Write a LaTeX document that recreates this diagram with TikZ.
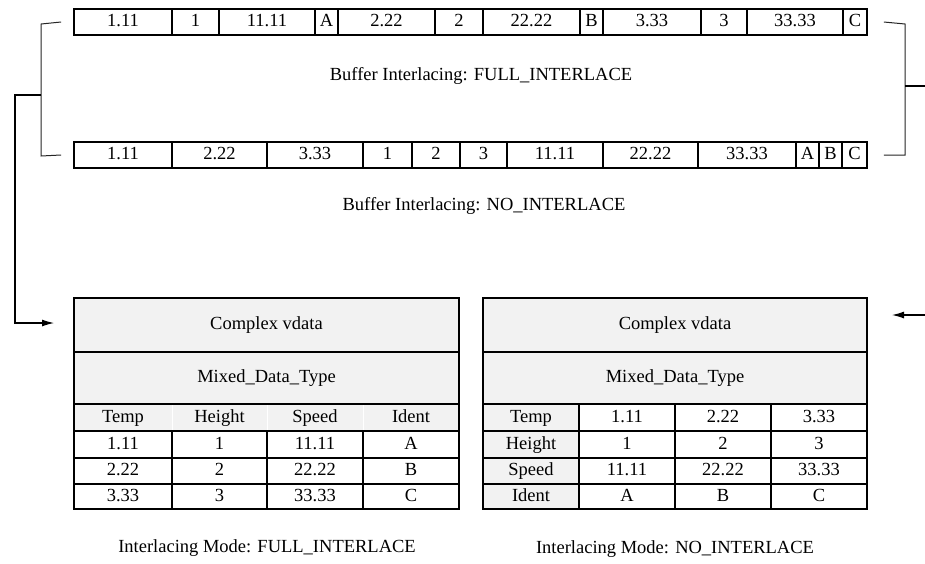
\documentclass[tikz,border=0pt]{standalone}
\usepackage{fontspec}
\setmainfont{Liberation Serif}
\usetikzlibrary{arrows.meta}
\definecolor{cellgrey}{HTML}{F2F2F2}
\tikzset{
  txt/.style={font=\fontsize{18.5}{18.5}\selectfont, inner sep=0pt},
  celltxt/.style={txt, text height=12.5pt, text depth=3.5pt},
  bufcell/.style={draw=black, line width=1.7pt, inner sep=0pt, celltxt},
  tabcell/.style={draw=black, line width=1.9pt, inner sep=0pt, celltxt},
  greycell/.style={tabcell, fill=cellgrey},
  hdrcell/.style={draw=white, line width=0.8pt, fill=cellgrey, inner sep=0pt, celltxt},
  bracket/.style={draw=black!85, line width=1pt},
  conn/.style={draw=black, line width=1.1pt, -{Latex[length=12pt,width=7pt]}},
  label/.style={txt}
}
\newcommand{\cellat}[7]{% name, style, x1, y1, x2, y2, text
  \pgfmathsetmacro{\cw}{#5-#3}\pgfmathsetmacro{\chh}{#6-#4}%
  \node[#2, minimum width=\cw pt, minimum height=\chh pt] (#1) at ({(#3+#5)/2},{(#4+#6)/2}) {#7};}
\begin{document}
\begin{tikzpicture}[x=1pt,y=-1pt]
\clip (0,0) rectangle (925,563);
\fill[white] (0,0) rectangle (925,563);
% top buffer (FULL_INTERLACE)
\foreach \a/\b/\t [count=\i] in {74/172/1.11,172/219/1,219/315/11.11,315/338/A,338/435/2.22,435/483/2,483/580/22.22,580/603/B,603/701/3.33,701/747/3,747/843/33.33,843/867/C}
  {\cellat{ta\i}{bufcell}{\a}{9}{\b}{35}{\t}}
% bottom buffer (NO_INTERLACE)
\foreach \a/\b/\t [count=\i] in {74/172/1.11,172/267/2.22,267/363/3.33,363/412/1,412/460/2,460/507/3,507/603/11.11,603/698/22.22,698/796/33.33,796/819/A,819/842/B,842/867/C}
  {\cellat{tb\i}{bufcell}{\a}{142}{\b}{168}{\t}}
\node[label] (lfull) at (481,76) {Buffer Interlacing: FULL\_INTERLACE};
\node[label] (lno) at (484,206) {Buffer Interlacing: NO\_INTERLACE};
% left table
\cellat{lt1}{greycell}{74}{298}{459}{352}{Complex vdata}
\cellat{lt2}{greycell}{74}{352}{459}{404}{Mixed\_Data\_Type}
\foreach \a/\b/\t [count=\i] in {74/172/Temp,172/267/Height,267/363/Speed,363/459/Ident}
  {\cellat{lh\i}{hdrcell}{\a}{404}{\b}{431}{\t}}
\foreach \a/\b/\t [count=\i] in {74/172/1.11,172/267/1,267/363/11.11,363/459/A}
  {\cellat{la\i}{tabcell}{\a}{431}{\b}{458}{\t}}
\foreach \a/\b/\t [count=\i] in {74/172/2.22,172/267/2,267/363/22.22,363/459/B}
  {\cellat{lb\i}{tabcell}{\a}{458}{\b}{484}{\t}}
\foreach \a/\b/\t [count=\i] in {74/172/3.33,172/267/3,267/363/33.33,363/459/C}
  {\cellat{lc\i}{tabcell}{\a}{484}{\b}{509}{\t}}
\draw[line width=1.9pt] (74,298) rectangle (459,509);
\draw[line width=1.9pt] (74,404) -- (459,404);
\node[label] (lmode) at (267,548) {Interlacing Mode: FULL\_INTERLACE};
% right table
\cellat{rt1}{greycell}{483}{298}{867}{352}{Complex vdata}
\cellat{rt2}{greycell}{483}{352}{867}{404}{Mixed\_Data\_Type}
\foreach \y/\z/\h/\p/\q/\r [count=\i] in {404/431/Temp/1.11/2.22/3.33,431/458/Height/1/2/3,458/484/Speed/11.11/22.22/33.33,484/509/Ident/A/B/C}
  {\cellat{rh\i}{greycell}{483}{\y}{579}{\z}{\h}
   \cellat{rp\i}{tabcell}{579}{\y}{675}{\z}{\p}
   \cellat{rq\i}{tabcell}{675}{\y}{771}{\z}{\q}
   \cellat{rr\i}{tabcell}{771}{\y}{867}{\z}{\r}}
\node[label] (rmode) at (675,549) {Interlacing Mode: NO\_INTERLACE};
% brackets and connectors
\coordinate (lbt) at (41,24);
\coordinate (lbb) at (41,156);
\coordinate (lbm) at (41,95);
\draw[bracket] ([xshift=-12pt]ta1.west) -- (lbt) -- (lbb) -- ([xshift=-12pt]tb1.west);
\coordinate (lturn) at (15,95);
\coordinate (lend) at (54,323);
\draw[conn] (lbm) -- (lturn) -- (lturn |- lend) -- (lend);
\coordinate (rbt) at (905,24);
\coordinate (rbb) at (905,155);
\coordinate (rbm) at (905,86);
\draw[bracket] ([xshift=16pt]ta12.east) -- (rbt) -- (rbb) -- ([xshift=16pt]tb12.east);
\coordinate (rturn) at (935,86);
\coordinate (rend) at (892,315);
\draw[conn] (rbm) -- (rturn) -- (rturn |- rend) -- (rend);
\end{tikzpicture}
\end{document}
